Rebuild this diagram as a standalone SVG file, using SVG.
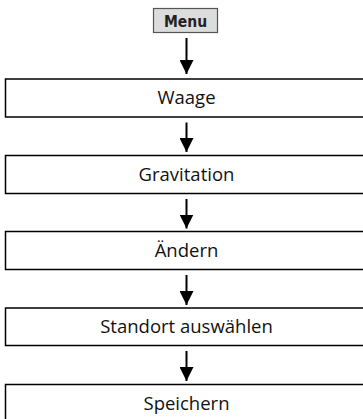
<svg xmlns="http://www.w3.org/2000/svg" width="363" height="419" viewBox="0 0 363 419">
<defs>
<style>
.box{fill:#fff;stroke:#000;stroke-width:1.5}
.t{font-family:"Open Sans","DejaVu Sans",sans-serif;font-size:18.5px;fill:#111;text-anchor:middle}
.menu{fill:#dcdcdc;stroke:#555;stroke-width:1.2}
.mt{font-family:"DejaVu Sans Condensed","Liberation Sans Narrow",sans-serif;font-stretch:condensed;font-weight:bold;font-size:15.5px;fill:#222;text-anchor:middle}
.sh{stroke:#000;stroke-width:2}
</style>
<marker id="ah" viewBox="0 0 14 14" refX="14" refY="7" markerWidth="14" markerHeight="14" markerUnits="userSpaceOnUse" orient="auto">
<path d="M0,0 L14,7 L0,14 Z" fill="#000"/>
</marker>
</defs>
<rect width="363" height="419" fill="#fff"/>
<g id="menu">
<rect class="menu" x="153.5" y="8.5" width="64" height="24"/>
<text class="mt" x="185.5" y="26.5">Menu</text>
</g>
<g id="waage">
<rect class="box" x="5.5" y="79" width="365" height="38"/>
<text class="t" x="186.5" y="104">Waage</text>
</g>
<g id="gravitation">
<rect class="box" x="5.5" y="155.5" width="365" height="38"/>
<text class="t" x="186.5" y="180.5">Gravitation</text>
</g>
<g id="aendern">
<rect class="box" x="5.5" y="231.5" width="365" height="38"/>
<text class="t" x="186.5" y="256.5">Ändern</text>
</g>
<g id="standort">
<rect class="box" x="5.5" y="308" width="365" height="37.5"/>
<text class="t" x="186.5" y="333">Standort auswählen</text>
</g>
<g id="speichern">
<rect class="box" x="5.5" y="384.5" width="365" height="40"/>
<text class="t" x="186.5" y="409.5">Speichern</text>
</g>
<g id="connectors">
<line class="sh" x1="186.5" y1="38" x2="186.5" y2="74" marker-end="url(#ah)"/>
<line class="sh" x1="186.5" y1="122.5" x2="186.5" y2="152" marker-end="url(#ah)"/>
<line class="sh" x1="186.5" y1="199" x2="186.5" y2="228.5" marker-end="url(#ah)"/>
<line class="sh" x1="186.5" y1="275" x2="186.5" y2="305" marker-end="url(#ah)"/>
<line class="sh" x1="186.5" y1="351" x2="186.5" y2="381" marker-end="url(#ah)"/>
</g>
</svg>
